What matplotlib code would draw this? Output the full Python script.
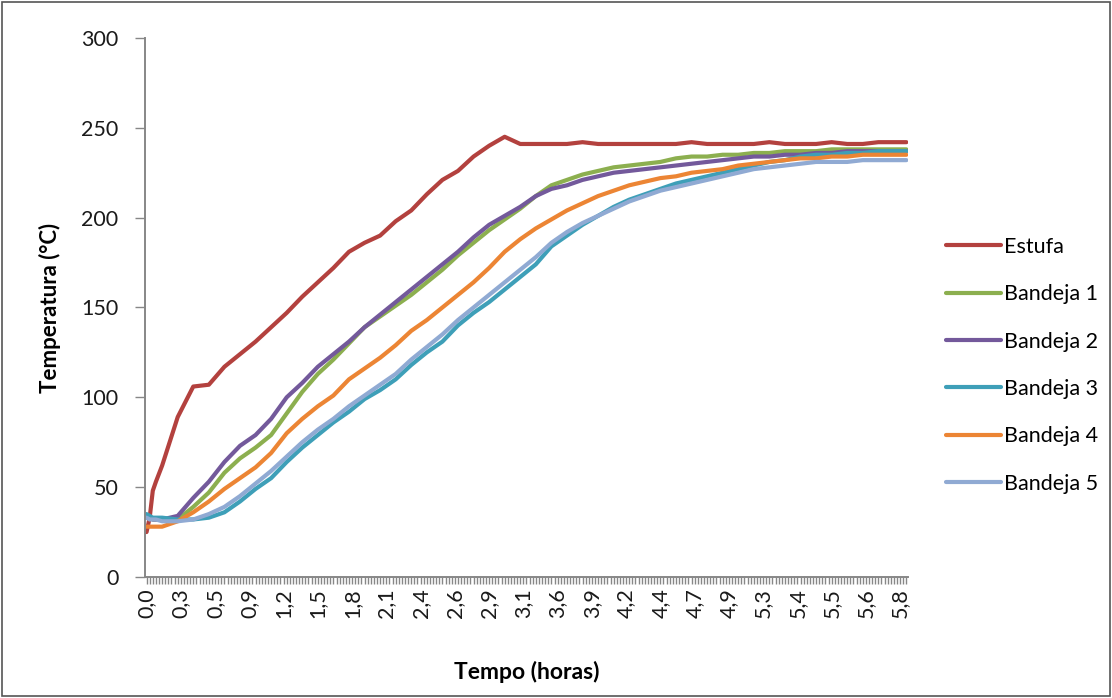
import matplotlib
matplotlib.use("Agg")
import matplotlib.pyplot as plt
from matplotlib.patches import Rectangle

plt.rcParams['font.family'] = ['Lato', 'DejaVu Sans']

# eixo de categorias (estilo Excel): 245 leituras, rótulo a cada 11
n_categorias = 245
passo_rotulo = 11
rotulos_tempo = ["0,0", "0,3", "0,5", "0,9", "1,2", "1,5", "1,8", "2,1", "2,4",
                 "2,6", "2,9", "3,1", "3,6", "3,9", "4,2", "4,4", "4,7", "4,9",
                 "5,3", "5,4", "5,5", "5,6", "5,8"]

# índices das leituras (categorias) onde os valores foram lidos
indice = [0, 1, 2, 3] + list(range(5, 241, 5)) + [244]

estufa = [25, 33, 48, 53, 62, 89, 106, 107, 117, 124, 131, 139, 147, 156, 164, 172,
          181, 186, 190, 198, 204, 213, 221, 226, 234, 240, 245, 241, 241, 241, 241,
          242, 241, 241, 241, 241, 241, 241, 242, 241, 241, 241, 241, 242, 241, 241,
          241, 242, 241, 241, 242, 242, 242]
bandeja1 = [33, 33, 32, 32, 32, 32, 39, 47, 58, 66, 72, 79, 91, 103, 113, 121, 130,
            139, 145, 151, 157, 164, 171, 179, 186, 193, 199, 205, 212, 218, 221, 224,
            226, 228, 229, 230, 231, 233, 234, 234, 235, 235, 236, 236, 237, 237, 237,
            238, 238, 238, 238, 238, 238]
bandeja2 = [33, 33, 32, 32, 32, 34, 44, 53, 64, 73, 79, 88, 100, 108, 117, 124, 131,
            139, 146, 153, 160, 167, 174, 181, 189, 196, 201, 206, 212, 216, 218, 221,
            223, 225, 226, 227, 228, 229, 230, 231, 232, 233, 234, 234, 235, 235, 236,
            236, 237, 237, 237, 237, 237]
bandeja3 = [35, 34, 33, 33, 33, 32, 32, 33, 36, 42, 49, 55, 64, 72, 79, 86, 92, 99,
            104, 110, 118, 125, 131, 140, 147, 153, 160, 167, 174, 184, 190, 196, 201,
            206, 210, 213, 216, 219, 221, 223, 225, 227, 229, 231, 232, 234, 235, 235,
            236, 236, 237, 237, 237]
bandeja4 = [28, 28, 28, 28, 28, 31, 36, 42, 49, 55, 61, 69, 80, 88, 95, 101, 110, 116,
            122, 129, 137, 143, 150, 157, 164, 172, 181, 188, 194, 199, 204, 208, 212,
            215, 218, 220, 222, 223, 225, 226, 227, 229, 230, 231, 232, 233, 233, 234,
            234, 235, 235, 235, 235]
bandeja5 = [33, 32, 32, 32, 31, 31, 32, 35, 39, 45, 52, 59, 67, 75, 82, 88, 95, 101,
            107, 113, 121, 128, 135, 143, 150, 157, 164, 171, 178, 186, 192, 197, 201,
            205, 209, 212, 215, 217, 219, 221, 223, 225, 227, 228, 229, 230, 231, 231,
            231, 232, 232, 232, 232]

series = [("Estufa", estufa, "#B3413E"),
          ("Bandeja 1", bandeja1, "#8CAF4F"),
          ("Bandeja 2", bandeja2, "#73599B"),
          ("Bandeja 3", bandeja3, "#3E9FB8"),
          ("Bandeja 4", bandeja4, "#EC8534"),
          ("Bandeja 5", bandeja5, "#90AAD3")]

fs = 15.5

fig = plt.figure(figsize=(11.12, 6.98), dpi=100)
ax = fig.add_axes([0.1304, 0.1734, 0.6861, 0.7722])

for nome, valores, cor in series:
    ax.plot(indice, valores, color=cor, lw=3.0, label=nome,
            solid_joinstyle="round", solid_capstyle="round")

cinza = "#878787"
ax.set_xlim(-0.5, n_categorias - 0.5)
ax.set_ylim(0, 300)
ax.set_yticks(range(0, 301, 50))
ax.set_xticks(range(n_categorias))
rot = [""] * n_categorias
for k, r in enumerate(rotulos_tempo):
    rot[k * passo_rotulo] = r
ax.set_xticklabels(rot, rotation=90)

for s in ("top", "right"):
    ax.spines[s].set_visible(False)
for s in ("left", "bottom"):
    ax.spines[s].set_color(cinza)
    ax.spines[s].set_linewidth(1.4)
ax.tick_params(axis="both", direction="out", color=cinza, width=1.0,
               labelsize=fs, labelcolor="#1a1a1a")
ax.tick_params(axis="x", length=5, pad=3)
ax.tick_params(axis="y", length=7, pad=12)

ax.set_ylabel("Temperatura (°C)", fontsize=16, fontweight="bold", labelpad=15)
ax.set_xlabel("Tempo (horas)", fontsize=16.5, fontweight="bold", labelpad=31)

fig.legend(loc="upper left", bbox_to_anchor=(0.843, 0.673), frameon=False,
           fontsize=fs, handlelength=2.55, handletextpad=0.15, labelspacing=1.27,
           borderaxespad=0)

fig.patches.append(Rectangle((0.002, 0.003), 0.996, 0.994, transform=fig.transFigure,
                             fill=False, edgecolor="#555555", lw=1.2))

fig.savefig("out.png", dpi=100)
